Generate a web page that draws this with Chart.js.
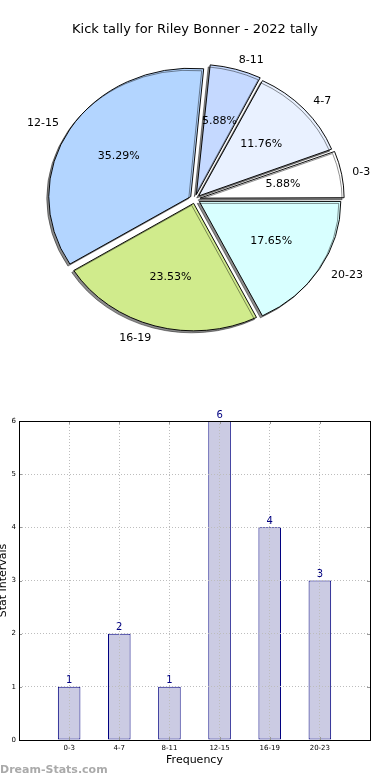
<!DOCTYPE html>
<html>
<head>
<meta charset="utf-8">
<title>Kick tally for Riley Bonner - 2022 tally</title>
<script src="https://cdn.jsdelivr.net/npm/chart.js@4.4.1/dist/chart.umd.min.js"></script>
<style>
  html, body { margin: 0; padding: 0; background: #fff; }
  canvas { display: block; }
</style>
</head>
<body>
<canvas id="pieChart" width="390" height="380"></canvas>
<canvas id="barChart" width="390" height="400"></canvas>
<script>
// Chart data
const categories = ['0-3', '4-7', '8-11', '12-15', '16-19', '20-23'];
const tallies = [1, 2, 1, 6, 4, 3];
const yTicks = [0, 1, 2, 3, 4, 5, 6];

const titleText = 'Kick tally for Riley Bonner - 2022 tally';
const sliceColors = ['#ffffff', '#e9f1ff', '#c5d9ff', '#b3d5ff', '#d0eb8c', '#d8ffff'];
const FONT = '"DejaVu Sans"';

const total = tallies.reduce((a, b) => a + b, 0);
const squash = 0.904; // source pie is a little wider than tall

// matplotlib goes counter-clockwise from 3 o'clock, chart.js clockwise,
// so hand it the slices reversed and start at 90deg
const pieLabels = categories.slice().reverse();
const pieValues = tallies.slice().reverse();
const pieColors = sliceColors.slice().reverse();

// squash + shadow around the slices, then labels on top
const pieLook = {
  id: 'pieLook',
  beforeDatasetsDraw(chart) {
    const { ctx } = chart;
    const arc = chart.getDatasetMeta(0).data[0];
    ctx.save();
    ctx.translate(arc.x, arc.y);
    ctx.scale(1, squash);
    ctx.translate(-arc.x, -arc.y);
    ctx.shadowColor = 'rgba(0,0,0,0.45)';
    ctx.shadowOffsetX = -2;
    ctx.shadowOffsetY = 2;
  },
  afterDatasetsDraw(chart) {
    const { ctx } = chart;
    ctx.restore();
    ctx.save();
    ctx.fillStyle = '#000';
    ctx.font = `11px ${FONT}`;
    ctx.textBaseline = 'middle';
    chart.getDatasetMeta(0).data.forEach((arc, i) => {
      const mid = (arc.startAngle + arc.endAngle) / 2;
      const cos = Math.cos(mid), sin = Math.sin(mid);
      const off = arc.options.offset / 4;
      const cx = arc.x + off * cos;
      const cy = arc.y + off * sin * squash;
      const r = arc.outerRadius;
      ctx.textAlign = cos > 0 ? 'left' : 'right';
      ctx.fillText(pieLabels[i], cx + 1.1 * r * cos, cy + 1.1 * r * sin * squash);
      ctx.textAlign = 'center';
      const pct = (pieValues[i] / total * 100).toFixed(2) + '%';
      ctx.fillText(pct, cx + 0.6 * r * cos, cy + 0.6 * r * sin * squash);
    });
    ctx.font = `13px ${FONT}`;
    ctx.textAlign = 'center';
    ctx.fillText(titleText, chart.width / 2, 30);
    ctx.restore();
  }
};

new Chart(document.getElementById('pieChart'), {
  type: 'pie',
  data: {
    labels: pieLabels,
    datasets: [{
      data: pieValues,
      backgroundColor: pieColors,
      borderColor: '#000',
      borderWidth: 1,
      offset: 20
    }]
  },
  options: {
    responsive: false,
    animation: false,
    events: [],
    rotation: 90,
    radius: 141,
    layout: { padding: { top: 18 } },
    plugins: { legend: { display: false }, tooltip: { enabled: false } }
  },
  plugins: [pieLook]
});

// frame, inward ticks, value labels, axis titles
const barLook = {
  id: 'barLook',
  afterDraw(chart) {
    const { ctx, chartArea: a, scales: { x, y } } = chart;
    ctx.save();
    ctx.strokeStyle = '#999';
    ctx.lineWidth = 1;
    ctx.beginPath();
    categories.forEach((c, i) => {
      const px = Math.round(x.getPixelForValue(i)) + 0.5;
      ctx.moveTo(px, a.bottom); ctx.lineTo(px, a.bottom - 3);
      ctx.moveTo(px, a.top); ctx.lineTo(px, a.top + 3);
    });
    yTicks.forEach(v => {
      const py = Math.round(y.getPixelForValue(v)) + 0.5;
      ctx.moveTo(a.left, py); ctx.lineTo(a.left + 3, py);
      ctx.moveTo(a.right, py); ctx.lineTo(a.right - 3, py);
    });
    ctx.stroke();

    ctx.strokeStyle = '#000';
    ctx.strokeRect(a.left + 0.5, a.top + 0.5, a.width, a.height);

    ctx.fillStyle = '#000080';
    ctx.font = `10px ${FONT}`;
    ctx.textAlign = 'center';
    ctx.textBaseline = 'bottom';
    chart.getDatasetMeta(0).data.forEach((bar, i) => {
      ctx.fillText(tallies[i], bar.x, bar.y - 1);
    });

    ctx.fillStyle = '#000';
    ctx.font = `11px ${FONT}`;
    ctx.textBaseline = 'middle';
    ctx.fillText('Frequency', (a.left + a.right) / 2, 380);
    ctx.save();
    ctx.translate(3, (a.top + a.bottom) / 2);
    ctx.rotate(-Math.PI / 2);
    ctx.fillText('Stat Intervals', 0, 0);
    ctx.restore();

    ctx.fillStyle = '#aaaaaa';
    ctx.font = `bold 11px ${FONT}`;
    ctx.textAlign = 'left';
    ctx.fillText('Dream-Stats.com', 0, 390);
    ctx.restore();
  }
};

const gridLine = {
  color: '#bdbdbd',
  lineWidth: 1,
  offset: false,
  drawTicks: false,
  z: 1
};

new Chart(document.getElementById('barChart'), {
  type: 'bar',
  data: {
    datasets: [{
      data: tallies.map((v, i) => ({ x: i, y: v })),
      backgroundColor: '#cbcbe3',
      borderColor: '#000080',
      borderWidth: 1,
      borderSkipped: false,
      barPercentage: 0.45,
      categoryPercentage: 1
    }]
  },
  options: {
    responsive: false,
    animation: false,
    events: [],
    layout: { padding: { top: 41, right: 20, left: 0, bottom: 0 } },
    scales: {
      x: {
        type: 'linear',
        min: -1,
        max: 6,
        offset: false,
        afterFit(scale) { scale.height = 40; },
        afterBuildTicks(scale) { scale.ticks = categories.map((c, i) => ({ value: i })); },
        ticks: {
          font: { family: 'DejaVu Sans', size: 7 },
          color: '#000',
          padding: 4,
          maxRotation: 0,
          autoSkip: false,
          callback: v => categories[v]
        },
        grid: gridLine,
        border: { display: false, dash: [1, 2] }
      },
      y: {
        min: 0,
        max: 6,
        afterFit(scale) { scale.width = 19; },
        afterBuildTicks(scale) { scale.ticks = yTicks.map(v => ({ value: v })); },
        ticks: {
          font: { family: 'DejaVu Sans', size: 7 },
          color: '#000',
          padding: 3
        },
        grid: gridLine,
        border: { display: false, dash: [1, 2] }
      }
    },
    plugins: { legend: { display: false }, tooltip: { enabled: false } }
  },
  plugins: [barLook]
});
</script>
</body>
</html>
